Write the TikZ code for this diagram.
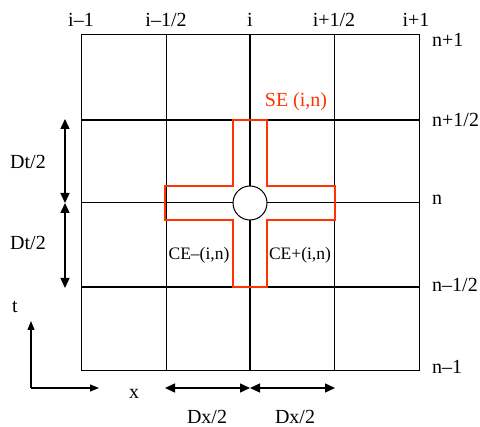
\documentclass[tikz,border=0pt]{standalone}
\usepackage{fontspec}
\setmainfont{Liberation Serif}
\usetikzlibrary{arrows.meta}
\definecolor{sered}{RGB}{255,51,0}
\begin{document}
\begin{tikzpicture}[x=1pt,y=-1pt,
  gthin/.style={line width=1pt,black},
  gthick/.style={line width=1.7pt,black},
  lbl/.style={font=\fontsize{20}{24}\selectfont,inner sep=0pt},
  small/.style={font=\fontsize{17.5}{20}\selectfont,inner sep=0pt},
  dim/.style={line width=1.4pt,{Triangle[length=10pt,width=9pt]}-{Triangle[length=10pt,width=9pt]}},
  ax/.style={line width=1.2pt,-{Triangle[length=9pt,width=7pt]}}]
\useasboundingbox (0,0) rectangle (480,427);
% grid
\draw[gthin] (81,35) rectangle (419,371);
\draw[gthin] (166,35) -- (166,371);
\draw[gthin] (334,35) -- (334,371);
\draw[gthick] (250,35) -- (250,371);
\draw[gthin] (81,203) -- (419,203);
\draw[gthick] (81,120) -- (419,120);
\draw[gthick] (81,287) -- (419,287);
% red cross (control volume)
\draw[sered,line width=1.8pt]
  (233,120) -- (267,120) -- (267,186) -- (335,186) -- (335,220) -- (267,220)
  -- (267,287) -- (233,287) -- (233,220) -- (165,220) -- (165,186) -- (233,186) -- cycle;
\node[circle,draw,line width=1pt,fill=white,minimum size=34pt,inner sep=0pt] (pt) at (250,203) {};
% labels
\node[lbl] (li1) at (81,20) {i--1};
\node[lbl] (li2) at (166,20) {i--1/2};
\node[lbl] (li3) at (250,20) {i};
\node[lbl] (li4) at (334,20) {i+1/2};
\node[lbl] (li5) at (416,20) {i+1};
\node[lbl,anchor=west] (ln1) at (432,40) {n+1};
\node[lbl,anchor=west] (ln2) at (432,120) {n+1/2};
\node[lbl,anchor=west] (ln3) at (432,200) {n};
\node[lbl,anchor=west] (ln4) at (432,285) {n--1/2};
\node[lbl,anchor=west] (ln5) at (432,367) {n--1};
\node[lbl,text=sered] (se) at (296,102) {SE (i,n)};
\node[small] (cem) at (199,255) {CE--(i,n)};
\node[small] (cep) at (300,255) {CE+(i,n)};
% Dt/2 arrows
\coordinate (t0) at (65,119);
\coordinate (t1) at (65,203);
\coordinate (t2) at (65,288);
\draw[dim] (t0) -- (t1);
\draw[dim] (t1) -- (t2);
\node[lbl] (dt1) at (28,162) {Dt/2};
\node[lbl] (dt2) at (28,243) {Dt/2};
% Dx/2 arrows
\coordinate (x0) at (165,388);
\coordinate (x1) at (250,388);
\coordinate (x2) at (335,388);
\draw[dim] (x0) -- (x1);
\draw[dim] (x1) -- (x2);
\node[lbl] (dx1) at (207,417) {Dx/2};
\node[lbl] (dx2) at (295,417) {Dx/2};
% axes
\coordinate (o) at (31,388);
\coordinate (ot) at (31,321);
\coordinate (ox) at (99,388);
\draw[ax] (o) -- (ot);
\draw[ax] (o) -- (ox);
\node[lbl] (tl) at (15,307) {t};
\node[lbl] (xl) at (134,394) {x};
\end{tikzpicture}
\end{document}
